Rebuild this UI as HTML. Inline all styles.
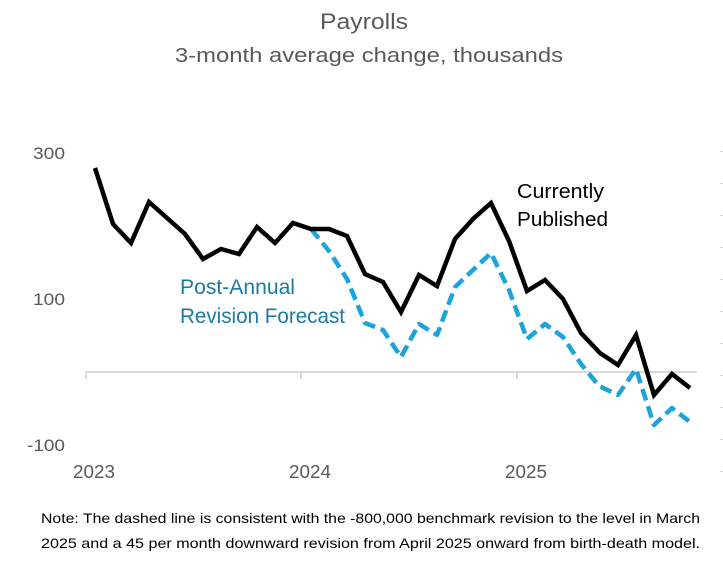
<!DOCTYPE html>
<html>
<head>
<meta charset="utf-8">
<style>
  html, body { margin: 0; padding: 0; background: #ffffff; }
  body { width: 723px; height: 568px; overflow: hidden; }
  svg { display: block; }
  text { font-family: "Liberation Sans", sans-serif; }
</style>
</head>
<body>
<svg width="723" height="568" viewBox="0 0 723 568" xmlns="http://www.w3.org/2000/svg">
  <rect width="723" height="568" fill="#ffffff"/>

  <!-- Titles -->
  <text x="320" y="29" font-size="22" fill="#595959" textLength="88" lengthAdjust="spacingAndGlyphs">Payrolls</text>
  <text x="175" y="62" font-size="20" fill="#595959" textLength="388" lengthAdjust="spacingAndGlyphs">3-month average change, thousands</text>

  <!-- Y axis labels -->
  <text x="65" y="159" font-size="17" fill="#595959" text-anchor="end" textLength="32" lengthAdjust="spacingAndGlyphs">300</text>
  <text x="65" y="305" font-size="17" fill="#595959" text-anchor="end" textLength="32" lengthAdjust="spacingAndGlyphs">100</text>
  <text x="65" y="451" font-size="17" fill="#595959" text-anchor="end" textLength="38" lengthAdjust="spacingAndGlyphs">-100</text>

  <!-- Right side faint ticks -->
  <g stroke="#d9d9d9" stroke-width="1">
    <line x1="720" y1="151.5" x2="723" y2="151.5"/>
    <line x1="720" y1="183.5" x2="723" y2="183.5"/>
    <line x1="720" y1="215.5" x2="723" y2="215.5"/>
    <line x1="720" y1="247.5" x2="723" y2="247.5"/>
    <line x1="720" y1="279.5" x2="723" y2="279.5"/>
    <line x1="720" y1="311.5" x2="723" y2="311.5"/>
    <line x1="720" y1="343.5" x2="723" y2="343.5"/>
    <line x1="720" y1="375.5" x2="723" y2="375.5"/>
    <line x1="720" y1="407.5" x2="723" y2="407.5"/>
    <line x1="720" y1="439.5" x2="723" y2="439.5"/>
    <line x1="720" y1="471.5" x2="723" y2="471.5"/>
  </g>

  <!-- Zero line and ticks -->
  <line x1="85" y1="372" x2="697" y2="372" stroke="#d9d9d9" stroke-width="2"/>
  <g stroke="#d9d9d9" stroke-width="2">
    <line x1="86" y1="372" x2="86" y2="379"/>
    <line x1="301" y1="372" x2="301" y2="379"/>
    <line x1="517" y1="372" x2="517" y2="379"/>
  </g>

  <!-- X axis labels -->
  <text x="73" y="478" font-size="18" fill="#595959" textLength="42" lengthAdjust="spacingAndGlyphs">2023</text>
  <text x="289" y="478" font-size="18" fill="#595959" textLength="42" lengthAdjust="spacingAndGlyphs">2024</text>
  <text x="505" y="478" font-size="18" fill="#595959" textLength="42" lengthAdjust="spacingAndGlyphs">2025</text>

  <!-- Dashed revised series -->
  <polyline points="311,229 329,251 347,279 365,323 383,330 401,357 419,324 437,335 455,287 473,270 491,253 509,290 527,339 545,324 563,337 581,364 599,386 618,395 636,369 654,425 672,408 690,422"
        fill="none" stroke="#1aa3dc" stroke-width="4.5" stroke-dasharray="12 6" stroke-linejoin="round"/>

  <!-- Currently published series -->
  <polyline points="95,168 113,224 131,243 149,202 167,218 185,234 203,259 221,249 239,254 257,227 275,243 293,223 311,229 329,229 347,236 365,274 383,282 401,312 419,275 437,286 455,239 473,219 491,203 509,241 527,291 545,280 563,299 581,333 600,353 618,365 636,335 654,395 672,374 690,388"
            fill="none" stroke="#000000" stroke-width="4.5" stroke-linejoin="miter" stroke-miterlimit="10"/>

  <!-- Series labels -->
  <text x="517" y="198" font-size="20" fill="#000000" textLength="87" lengthAdjust="spacingAndGlyphs">Currently</text>
  <text x="517" y="226" font-size="20" fill="#000000" textLength="91" lengthAdjust="spacingAndGlyphs">Published</text>

  <text x="180" y="294" font-size="21" fill="#1a7aa6" textLength="115" lengthAdjust="spacingAndGlyphs">Post-Annual</text>
  <text x="180" y="323" font-size="21" fill="#1a7aa6" textLength="165" lengthAdjust="spacingAndGlyphs">Revision Forecast</text>

  <!-- Note -->
  <text x="41" y="523" font-size="14" fill="#000000" textLength="659" lengthAdjust="spacingAndGlyphs">Note: The dashed line is consistent with the -800,000 benchmark revision to the level in March</text>
  <text x="41" y="548" font-size="14" fill="#000000" textLength="659" lengthAdjust="spacingAndGlyphs">2025 and a 45 per month downward revision from April 2025 onward from birth-death model.</text>
</svg>
</body>
</html>
